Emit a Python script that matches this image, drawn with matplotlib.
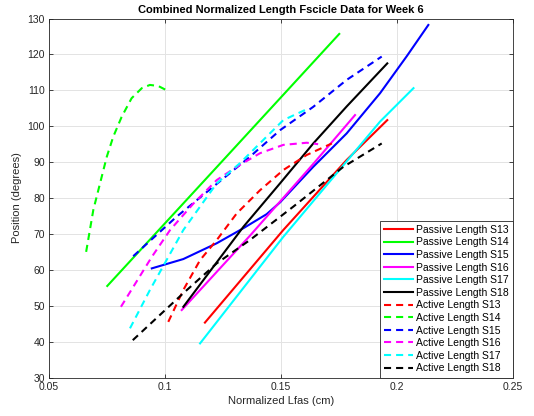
import matplotlib
matplotlib.use('Agg')
import matplotlib.pyplot as plt

plt.rcParams['font.family'] = ['Liberation Sans', 'DejaVu Sans']

# passive length curves (solid)
p13_x = [0.1172, 0.1510, 0.1783, 0.1958]
p13_y = [45.3, 71.1, 90.6, 101.7]
p14_x = [0.0751, 0.1250, 0.1751]
p14_y = [55.5, 90.5, 125.7]
p15_x = [0.0943, 0.1079, 0.1223, 0.1338, 0.1438, 0.1496, 0.1639, 0.1783, 0.1927, 0.2042, 0.2135]
p15_y = [60.4, 63.0, 67.4, 71.6, 75.5, 78.8, 88.7, 98.0, 109.2, 119.5, 128.2]
p16_x = [0.1072, 0.1366, 0.1639, 0.1819]
p16_y = [48.8, 69.5, 89.5, 103.1]
p17_x = [0.1151, 0.1510, 0.1927, 0.2071]
p17_y = [39.5, 69.2, 101.3, 110.6]
p18_x = [0.1079, 0.1338, 0.1496, 0.1639, 0.1783, 0.1958]
p18_y = [49.7, 72.0, 84.1, 95.2, 105.5, 117.5]

# active length curves (dashed)
a13_x = [0.1014, 0.1079, 0.1151, 0.1223, 0.1309, 0.1410, 0.1510, 0.1611, 0.1719]
a13_y = [45.5, 54.4, 62.7, 68.3, 75.7, 82.2, 87.8, 92.0, 95.2]
a14_x = [0.0660, 0.0691, 0.0720, 0.0749, 0.0777, 0.0813, 0.0856, 0.0900, 0.0935, 0.0971, 0.1004]
a14_y = [65.0, 76.7, 84.1, 91.5, 97.1, 102.6, 107.8, 110.6, 111.5, 111.2, 110.1]
a15_x = [0.0863, 0.1050, 0.1366, 0.1496, 0.1639, 0.1783, 0.1934]
a15_y = [63.8, 74.8, 91.5, 98.9, 105.4, 112.9, 119.4]
a16_x = [0.0810, 0.0943, 0.1022, 0.1123, 0.1223, 0.1309, 0.1410, 0.1510, 0.1611, 0.1660]
a16_y = [49.7, 63.6, 71.1, 78.5, 85.0, 88.7, 92.5, 94.8, 95.4, 95.0]
a17_x = [0.0849, 0.0935, 0.1079, 0.1223, 0.1323, 0.1438, 0.1510, 0.1603]
a17_y = [43.7, 54.4, 71.1, 84.1, 89.7, 97.1, 101.7, 104.5]
a18_x = [0.0861, 0.1079, 0.1223, 0.1366, 0.1553, 0.1769, 0.1934]
a18_y = [40.4, 53.5, 61.8, 68.3, 77.6, 88.7, 95.2]

subjects = ['S13', 'S14', 'S15', 'S16', 'S17', 'S18']
colors = ['#ff0000', '#00ff00', '#0000ff', '#ff00ff', '#00ffff', '#000000']
passive = [(p13_x, p13_y), (p14_x, p14_y), (p15_x, p15_y),
           (p16_x, p16_y), (p17_x, p17_y), (p18_x, p18_y)]
active = [(a13_x, a13_y), (a14_x, a14_y), (a15_x, a15_y),
          (a16_x, a16_y), (a17_x, a17_y), (a18_x, a18_y)]

fig = plt.figure(figsize=(5.34, 4.16), dpi=100)
ax = fig.add_axes([0.0918, 0.0925, 0.8689, 0.863])

for (x, y), c, s in zip(passive, colors, subjects):
    ax.plot(x, y, color=c, lw=1.5, label=f'Passive Length {s}')
for (x, y), c, s in zip(active, colors, subjects):
    ax.plot(x, y, color=c, lw=1.5, dashes=(3.4, 2.4), label=f'Active Length {s}')

ax.set_xlim(0.05, 0.25)
ax.set_ylim(30, 130)
ax.set_xticks([0.05, 0.1, 0.15, 0.2, 0.25])
ax.set_xticklabels(['0.05', '0.1', '0.15', '0.2', '0.25'])
ax.set_yticks(range(30, 131, 10))
ax.grid(True, color='#e3e3e3', lw=0.7)
ax.set_axisbelow(True)
ax.tick_params(direction='in', top=True, right=True, length=3, width=0.6,
               colors='#262626', labelsize=7.5, pad=3)
for sp in ax.spines.values():
    sp.set_color('#262626')
    sp.set_linewidth(0.6)

ax.set_title('Combined Normalized Length Fscicle Data for Week 6',
             fontsize=8, fontweight='bold', pad=4)
ax.set_xlabel('Normalized Lfas (cm)', fontsize=8, color='#262626', labelpad=3)
ax.set_ylabel('Position (degrees)', fontsize=8, color='#262626', labelpad=4)

leg = ax.legend(loc='lower right', fontsize=7.5, handlelength=2.8,
                handletextpad=0.3, labelspacing=0.25, borderpad=0.4,
                fancybox=False, framealpha=1, borderaxespad=0)
leg.get_frame().set_edgecolor('#262626')
leg.get_frame().set_linewidth(0.6)

fig.savefig('out.png', dpi=100, facecolor='white')
